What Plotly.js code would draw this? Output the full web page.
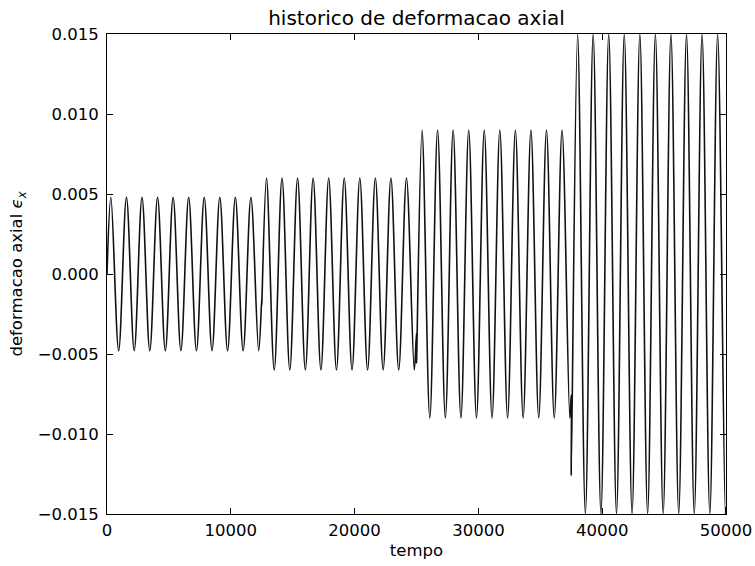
<!DOCTYPE html>
<html>
<head>
<meta charset="utf-8">
<script src="https://cdn.plot.ly/plotly-3.0.1.min.js"></script>
<style>
  html, body { margin: 0; padding: 0; background: #ffffff; }
  #grafico { width: 755px; height: 566px; }
</style>
</head>
<body>
<div id="grafico"></div>
<script>
// Axial strain history: four loading blocks of increasing amplitude.
// Each block lists its turning points (peaks and valleys) plus the
// values at the block edges, where the history jumps between blocks.

const tempoBloco1 = [0, 314, 942, 1571, 2199, 2827, 3456, 4084, 4712, 5341, 5969,
  6597, 7226, 7854, 8482, 9111, 9739, 10367, 10996, 11624, 12252, 12500];
const deformBloco1 = [0, 0.0048, -0.0048, 0.0048, -0.0048, 0.0048, -0.0048, 0.0048, -0.0048,
  0.0048, -0.0048, 0.0048, -0.0048, 0.0048, -0.0048, 0.0048, -0.0048, 0.0048, -0.0048,
  0.0048, -0.0048, -0.00156];

const tempoBloco2 = [12500, 12881, 13509, 14137, 14765, 15394, 16022, 16650, 17279, 17907,
  18535, 19164, 19792, 20420, 21049, 21677, 22305, 22934, 23562, 24190, 24819, 25000];
const deformBloco2 = [-0.00195, 0.006, -0.006, 0.006, -0.006, 0.006, -0.006, 0.006, -0.006,
  0.006, -0.006, 0.006, -0.006, 0.006, -0.006, 0.006, -0.006, 0.006, -0.006, 0.006, -0.006,
  -0.0037];

const tempoBloco3 = [25000, 25447, 26075, 26704, 27332, 27960, 28589, 29217, 29845, 30473,
  31102, 31730, 32358, 32987, 33615, 34243, 34872, 35500, 36128, 36757, 37385, 37500];
const deformBloco3 = [-0.00556, 0.009, -0.009, 0.009, -0.009, 0.009, -0.009, 0.009, -0.009,
  0.009, -0.009, 0.009, -0.009, 0.009, -0.009, 0.009, -0.009, 0.009, -0.009, 0.009, -0.009,
  -0.00756];

const tempoBloco4 = [37500, 38013, 38642, 39270, 39898, 40527, 41155, 41783, 42412, 43040,
  43668, 44296, 44925, 45553, 46181, 46810, 47438, 48066, 48695, 49323, 49951, 50000];
const deformBloco4 = [-0.0126, 0.015, -0.015, 0.015, -0.015, 0.015, -0.015, 0.015, -0.015,
  0.015, -0.015, 0.015, -0.015, 0.015, -0.015, 0.015, -0.015, 0.015, -0.015, 0.015, -0.015,
  -0.01456];

const ticksTempo = [0, 10000, 20000, 30000, 40000, 50000];
const rotulosTempo = ['0', '10000', '20000', '30000', '40000', '50000'];
const ticksDeform = [-0.015, -0.010, -0.005, 0.000, 0.005, 0.010, 0.015];
const rotulosDeform = ['\u22120.015', '\u22120.010', '\u22120.005', '0.000', '0.005', '0.010', '0.015'];

// one continuous history, block after block
const tempo = tempoBloco1.concat(tempoBloco2, tempoBloco3, tempoBloco4);
const deformacao = deformBloco1.concat(deformBloco2, deformBloco3, deformBloco4);

const fonte = 'DejaVu Sans, sans-serif';

const traco = {
  x: tempo,
  y: deformacao,
  type: 'scatter',
  mode: 'lines',
  line: { color: '#111111', width: 1.6, shape: 'spline', smoothing: 1 },
  hoverinfo: 'x+y',
  showlegend: false
};

const eixoBase = {
  ticks: 'inside',
  ticklen: 6,
  tickwidth: 1,
  tickcolor: '#000000',
  showline: true,
  linecolor: '#000000',
  linewidth: 1,
  mirror: 'ticks',
  showgrid: false,
  zeroline: false,
  tickfont: { family: fonte, size: 16.5, color: '#000000' }
};

const layout = {
  width: 755,
  height: 566,
  margin: { l: 107, r: 29, t: 34, b: 52 },
  paper_bgcolor: '#ffffff',
  plot_bgcolor: '#ffffff',
  font: { family: fonte, color: '#000000' },
  title: {
    text: 'historico de deformacao axial',
    font: { family: fonte, size: 20, color: '#000000' },
    x: 0.5,
    xref: 'paper',
    xanchor: 'center',
    y: 0.968,
    yref: 'container',
    yanchor: 'middle'
  },
  xaxis: Object.assign({}, eixoBase, {
    range: [0, 50000],
    tickmode: 'array',
    tickvals: ticksTempo,
    ticktext: rotulosTempo,
    ticklabelstandoff: 1,
    title: { text: 'tempo', font: { family: fonte, size: 16.5, color: '#000000' }, standoff: 5 }
  }),
  yaxis: Object.assign({}, eixoBase, {
    range: [-0.015, 0.015],
    tickmode: 'array',
    tickvals: ticksDeform,
    ticktext: rotulosDeform,
    ticklabelstandoff: 4,
    title: {
      text: 'deformacao axial <i>\u03f5</i><sub><i>x</i></sub>',
      font: { family: fonte, size: 16.5, color: '#000000' },
      standoff: 10
    }
  })
};

Plotly.newPlot('grafico', [traco], layout, { displayModeBar: false, staticPlot: true });
</script>
</body>
</html>
